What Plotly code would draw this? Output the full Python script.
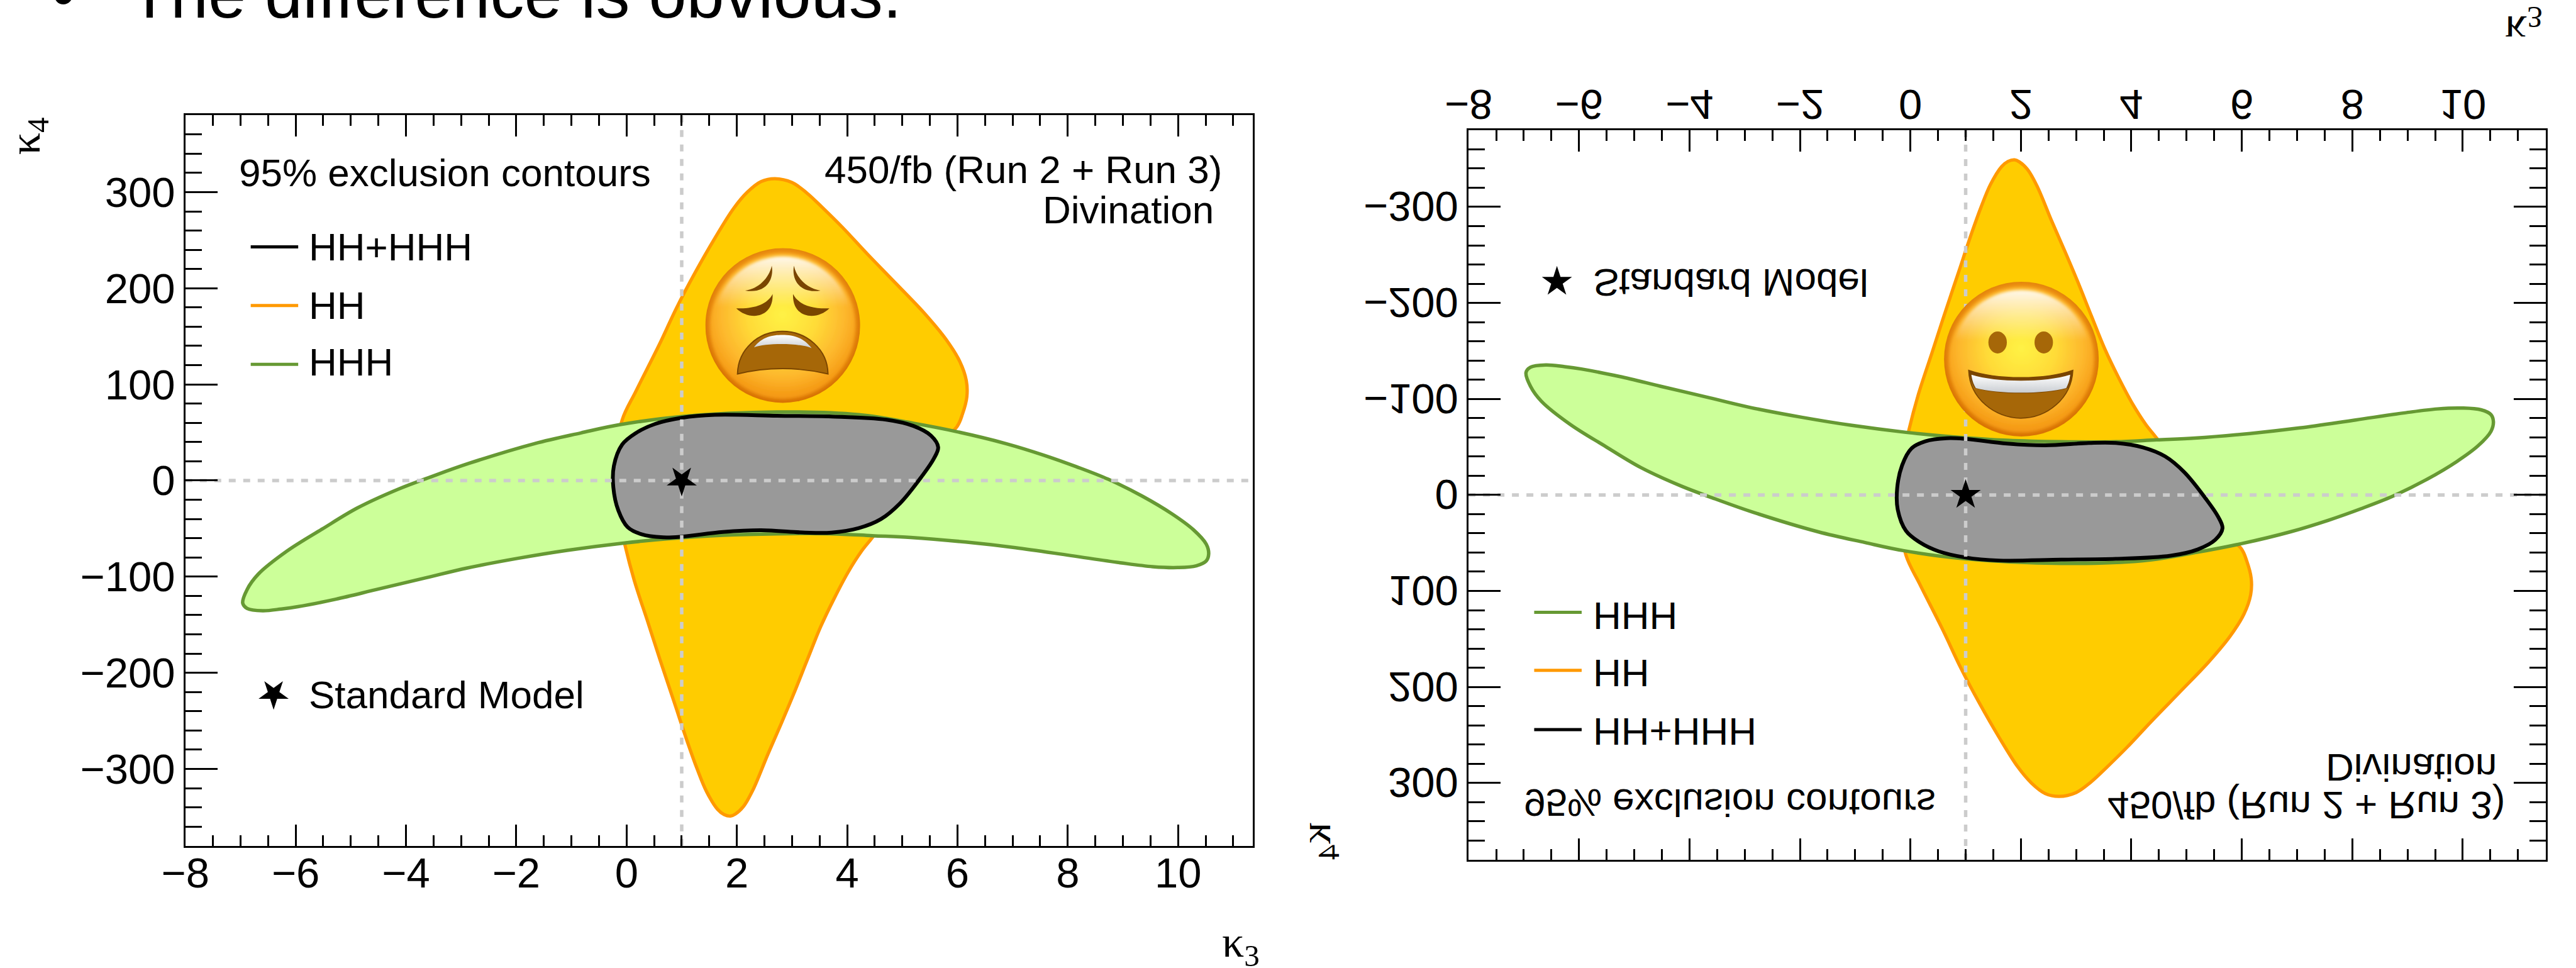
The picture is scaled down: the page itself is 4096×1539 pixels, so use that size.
import base64
import plotly.graph_objects as go

REF_W, REF_H = 4829, 1815
WIN_W, WIN_H = 4096, 1539

HH_K3 = [2.69,3.0,3.27,3.55,3.92,4.36,4.9,5.4,5.79,6.04,6.16,6.17,6.09,5.99,5.5,5.0,4.46,4.26,4.02,3.77,3.52,3.28,3.03,2.81,2.56,2.29,2.12,1.97,1.885,1.77,1.65,1.45,1.28,1.11,0.86,0.61,0.39,0.14,-0.03,-0.2,-0.2,-0.08,0.17,0.59,0.91,1.25,1.6,1.94,2.19,2.44,2.69]
HH_K4 = [314,310,299,284,263,236,204,174,147,124,104,87,69,56,30,-15,-59,-73.5,-95,-122,-152,-186,-222,-252,-285,-322,-339,-347,-349,-347.5,-342,-323.5,-300,-273,-230,-187,-148,-104,-67,-20,20,63,93,141,180,217,252,283,300,311,314]
HHH_K3 = [-0.83,-0.13,1.0,2.73,4.21,5.2,5.99,6.88,7.57,8.16,8.73,9.35,9.89,10.28,10.51,10.555,10.51,10.33,9.99,9.54,8.95,8.06,7.05,6.15,5.15,4.46,3.72,2.73,1.75,0.76,-0.08,-1.08,-1.97,-2.9,-3.64,-4.53,-5.27,-5.96,-6.26,-6.6,-6.88,-6.96,-6.88,-6.68,-6.16,-5.52,-4.88,-4.14,-3.54,-2.85,-1.67,-0.83]
HHH_K4 = [49.5,58,66.6,71.3,68.5,59.6,50.8,38.4,26.3,14.3,1.4,-16.2,-34.7,-51.3,-66.1,-76.3,-83.7,-88.7,-90.5,-89.6,-85.5,-78.1,-69.8,-64,-59.2,-57.4,-55.4,-55.4,-56.9,-60.6,-65.2,-72.6,-80.9,-91.1,-101.2,-113.3,-123.4,-131.2,-133.6,-135.4,-133,-127.5,-113.3,-97.5,-73.5,-50.5,-28.5,-9,4,18,38.4,49.5]
COMB_K3 = [2.73,3.72,4.71,5.2,5.52,5.65,5.57,5.35,4.96,4.61,4.21,3.72,3.23,2.44,1.75,1.0,0.66,0.27,0.02,-0.15,-0.24,-0.23,-0.08,0.17,0.51,1.0,1.6,2.73]
COMB_K4 = [67.4,66.6,63.3,56.8,46.7,34.7,22.6,4.1,-23.6,-40.2,-49.5,-54.1,-54.1,-51.7,-53.5,-58.4,-59.1,-55.9,-48.5,-31,-7,15.2,37.4,49.4,58.7,65.2,68.3,67.4]
SM_K3, SM_K4 = 1, 0
KEY_K3, KEY_K4 = -6.4, -222

LEGEND_NAMES = ["HH+HHH", "HH", "HHH"]
LEGEND_COLORS = ["#000000", "#ff9900", "#669933"]
FILL = {"HH": "#ffcc00", "HHH": "#ccff99", "HH+HHH": "#999999"}
XTICKS_DTICK, YTICKS_DTICK = 2, 100
SANS, SERIF = "Liberation Sans", "Liberation Serif"


def face_svg(kind):
    defs = ('<defs>'
            '<filter id="b" x="-10%" y="-10%" width="120%" height="120%"><feGaussianBlur stdDeviation="7"/></filter>'
            '<radialGradient id="f" cx="50%" cy="42%" r="56%">'
            '<stop offset="0" stop-color="#fff245"/><stop offset=".42" stop-color="#ffdc38"/>'
            '<stop offset=".78" stop-color="#fdb62c"/><stop offset="1" stop-color="#f59a14"/></radialGradient>'
            '<radialGradient id="r" cx="50%" cy="48%" r="51%">'
            '<stop offset=".84" stop-color="#f7a01a"/><stop offset="1" stop-color="#d97404"/></radialGradient>'
            '<linearGradient id="h" x1="0" y1="0" x2="0" y2="1">'
            '<stop offset="0" stop-color="#ffffff" stop-opacity=".9"/><stop offset=".36" stop-color="#ffffff" stop-opacity="0"/></linearGradient>'
            '<linearGradient id="t" x1="0" y1="0" x2="0" y2="1">'
            '<stop offset="0" stop-color="#ffffff"/><stop offset="1" stop-color="#c9cdd2"/></linearGradient>'
            '</defs>')
    base = ('<circle cx="437" cy="437" r="436" fill="url(#r)"/>'
            '<circle cx="437" cy="440" r="408" fill="url(#f)" filter="url(#b)"/>'
            '<circle cx="437" cy="440" r="392" fill="url(#h)" filter="url(#b)"/>')
    dark, mouth = "#7a4500", "#a66708"
    if kind == "weary":
        body = (f'<path d="M375 100C360 170 300 230 225 240C340 260 390 180 375 100Z" fill="{dark}"/>'
                f'<path d="M500 100C515 170 575 230 650 240C535 260 485 180 500 100Z" fill="{dark}"/>'
                f'<path d="M380 260C350 320 270 345 175 340C245 410 385 400 380 260Z" fill="{dark}"/>'
                f'<path d="M495 260C525 320 605 345 700 340C630 410 490 400 495 260Z" fill="{dark}"/>'
                f'<path d="M182 710C185 570 300 470 435 470C570 470 690 570 692 710C520 670 350 670 182 710Z" fill="{mouth}" stroke="{dark}" stroke-width="7"/>'
                '<path d="M275 560C320 500 380 490 435 490C490 490 550 500 600 565C540 535 340 535 275 560Z" fill="url(#t)"/>')
    else:
        body = (f'<ellipse cx="303" cy="343" rx="52" ry="62" fill="{mouth}"/>'
                f'<ellipse cx="563" cy="343" rx="52" ry="62" fill="{mouth}"/>'
                f'<path d="M140 500C300 555 570 555 727 500C720 660 580 770 433 770C290 770 145 660 140 500Z" fill="{mouth}" stroke="{dark}" stroke-width="6"/>'
                f'<path d="M140 500C300 555 570 555 727 500C725 540 715 570 700 600C560 640 310 640 175 600C155 570 145 540 140 500Z" fill="{dark}"/>'
                '<path d="M155 525C300 570 570 570 712 525C708 560 700 580 690 600C560 635 310 635 180 600C168 580 160 560 155 525Z" fill="url(#t)"/>')
    svg = f'<svg xmlns="http://www.w3.org/2000/svg" viewBox="0 0 875 875">{defs}{base}{body}</svg>'
    return "data:image/svg+xml;base64," + base64.b64encode(svg.encode()).decode()


def px(x):
    return x / REF_W


def py(y):
    return 1 - y / REF_H


fig = go.Figure()
for xa, ya, star_angle in (("x", "y", 180), ("x2", "y2", 0)):
    for name, xs, ys, color, w in (
        ("HH", HH_K3, HH_K4, LEGEND_COLORS[1], 5.2),
        ("HHH", HHH_K3, HHH_K4, LEGEND_COLORS[2], 5.5),
        ("HH+HHH", COMB_K3, COMB_K4, LEGEND_COLORS[0], 6),
    ):
        fig.add_trace(go.Scatter(x=xs, y=ys, mode="lines", name=name, xaxis=xa, yaxis=ya,
                                 fill="toself", fillcolor=FILL[name], showlegend=False,
                                 line=dict(color=color, width=w, shape="spline", smoothing=1.0)))
    dash = dict(color="#cccccc", width=5.5, dash="11px,12px")
    fig.add_trace(go.Scatter(x=[SM_K3, SM_K3], y=[-380, 380], mode="lines", line=dash,
                             xaxis=xa, yaxis=ya, showlegend=False))
    fig.add_trace(go.Scatter(x=[-8, 11.5], y=[SM_K4, SM_K4], mode="lines", line=dash,
                             xaxis=xa, yaxis=ya, showlegend=False))
    fig.add_trace(go.Scatter(x=[SM_K3, KEY_K3], y=[SM_K4, KEY_K4], mode="markers", name="Standard Model",
                             xaxis=xa, yaxis=ya, showlegend=False,
                             marker=dict(symbol="star", size=36, color="black", angle=star_angle)))

annotations, shapes = [], []
flip_y, flip_x = [], []


def note(text, x, y, size=62, family=SANS, xanchor="left", yanchor="middle", angle=0, flip=None):
    annotations.append(dict(text=text, x=px(x), y=py(y), xref="paper", yref="paper", showarrow=False,
                            xanchor=xanchor, yanchor=yanchor, textangle=angle,
                            font=dict(size=size, family=family, color="black"), borderpad=0, borderwidth=0))
    if flip == "y":
        flip_y.append(len(annotations) - 1)
    if flip == "x":
        flip_x.append(len(annotations) - 1)


def key_line(x0, x1, y, color):
    shapes.append(dict(type="line", xref="paper", yref="paper", x0=px(x0), x1=px(x1), y0=py(y), y1=py(y),
                       line=dict(color=color, width=5)))


# headline, cut by the window top
note("The difference is obvious.", 242, 33 + 27, size=108, yanchor="bottom")
note("•", 119, 33 + 27, size=108, xanchor="center", yanchor="bottom")

# left panel texts
note("95% exclusion contours", 448, 324)
note("450/fb (Run 2 + Run 3)", 2291, 318, xanchor="right")
note("Divination", 2275, 393, xanchor="right")
for name, color, ty, ly in zip(LEGEND_NAMES, LEGEND_COLORS, (463, 573, 679), (463, 573, 683)):
    note(name, 579, ty)
    key_line(470, 559, ly, color)
note("Standard Model", 579, 1302)
note("κ<sub>3</sub>", 2326, 1772, size=70, family=SERIF, xanchor="center")
note("κ<sub>4</sub>", 53, 255, size=70, family=SERIF, xanchor="center", angle=-90)

# right panel texts (mirrored top to bottom)
note("95% exclusion contours", 2857, 1505, flip="y")
note("450/fb (Run 2 + Run 3)", 4696, 1510, xanchor="right", flip="y")
note("Divination", 4680, 1439, xanchor="right", flip="y")
for name, color, ty, ly in zip(LEGEND_NAMES, LEGEND_COLORS, (1372, 1262, 1155), (1368, 1257, 1148)):
    note(name, 2986, ty, flip="y")
    key_line(2876, 2965, ly, color)
note("Standard Model", 2986, 530, flip="y")
note("κ<sub>3</sub>", 4731, 52, size=70, family=SERIF, xanchor="center", flip="y")
note("κ<sub>4</sub>", 2472, 1577, size=70, family=SERIF, xanchor="center", angle=-90, flip="x")

images = [
    dict(source=face_svg("weary"), xref="paper", yref="paper", x=px(1322), y=py(465), sizex=291 / REF_W,
         sizey=291 / REF_H, xanchor="left", yanchor="top", sizing="stretch", layer="above"),
    dict(source=face_svg("smile"), xref="paper", yref="paper", x=px(3644), y=py(528), sizex=291 / REF_W,
         sizey=291 / REF_H, xanchor="left", yanchor="top", sizing="stretch", layer="above"),
]


def xaxis(domain, rng, side, anchor, standoff):
    return dict(domain=domain, range=rng, side=side, anchor=anchor, tick0=0, dtick=XTICKS_DTICK, ticks="inside",
                ticklen=34, tickwidth=2.5, tickcolor="black", showgrid=False, zeroline=False, showline=True,
                linecolor="black", linewidth=2.8, mirror="allticks", automargin=False, ticklabelstandoff=standoff,
                minor=dict(dtick=0.5, tick0=0, ticks="inside", ticklen=17, tickwidth=2.5, tickcolor="black", showgrid=False),
                tickfont=dict(family=SANS, size=67, color="black"))


def yaxis(domain, rng, anchor, mirror="allticks"):
    return dict(domain=domain, range=rng, side="left", anchor=anchor, tick0=0, dtick=YTICKS_DTICK, ticks="inside",
                ticklen=51, tickwidth=2.5, tickcolor="black", showgrid=False, zeroline=False, showline=True,
                linecolor="black", linewidth=2.8, mirror=mirror, automargin=False,
                minor=dict(dtick=20, tick0=0, ticks="inside", ticklen=26, tickwidth=2.5, tickcolor="black", showgrid=False),
                tickfont=dict(family=SANS, size=67, color="black"))


fig.update_layout(
    width=WIN_W, height=WIN_H, margin=dict(l=0, r=0, t=0, b=0, pad=0), autosize=False,
    paper_bgcolor="white", plot_bgcolor="white", showlegend=False,
    xaxis=xaxis([px(347.5), px(2348)], [-8, 11.35], "bottom", "y", -17),
    yaxis=yaxis([py(1586), py(216)], [-380, 380], "x", mirror=True),
    xaxis2=xaxis([px(2753), px(4772)], [-8, 11.5], "top", "y2", -13),
    yaxis2=yaxis([py(1612), py(244)], [380, -380], "x2"),
    # the left panel's right-hand ticks are shorter than its left-hand ones
    yaxis3=dict(domain=[py(1586), py(216)], range=[-380, 380], side="right", overlaying="y", anchor="x",
                tick0=0, dtick=YTICKS_DTICK, ticks="inside", ticklen=39, tickwidth=2.5, tickcolor="black",
                showgrid=False, zeroline=False, showline=False, showticklabels=False, automargin=False,
                minor=dict(dtick=20, tick0=0, ticks="inside", ticklen=13, tickwidth=2.5, tickcolor="black", showgrid=False)),
    annotations=annotations, shapes=shapes, images=images,
)

post = """
document.documentElement.style.overflow='hidden';
document.body.style.margin='0';
var gd=document.getElementById('{plot_id}');
function flipY(t,h){var b=t.getBBox();h=h||t;var o=h.getAttribute('transform')||'';
 h.setAttribute('transform',o+' translate(0,'+(2*b.y+b.height)+') scale(1,-1)');}
function flipX(t,h){var b=t.getBBox();h=h||t;var o=h.getAttribute('transform')||'';
 h.setAttribute('transform',o+' translate('+(2*b.x+b.width)+',0) scale(-1,1)');}
gd.querySelectorAll('g.x2tick text, g.y2tick text').forEach(function(t){flipY(t);});
%s.forEach(function(i){var t=gd.querySelector('.annotation[data-index="'+i+'"] text');if(t)flipY(t,t.parentNode);});
%s.forEach(function(i){var t=gd.querySelector('.annotation[data-index="'+i+'"] text');if(t)flipX(t,t.parentNode);});
""" % (flip_y, flip_x)

fig.write_html("out.html", post_script=post, config={"displayModeBar": False})
